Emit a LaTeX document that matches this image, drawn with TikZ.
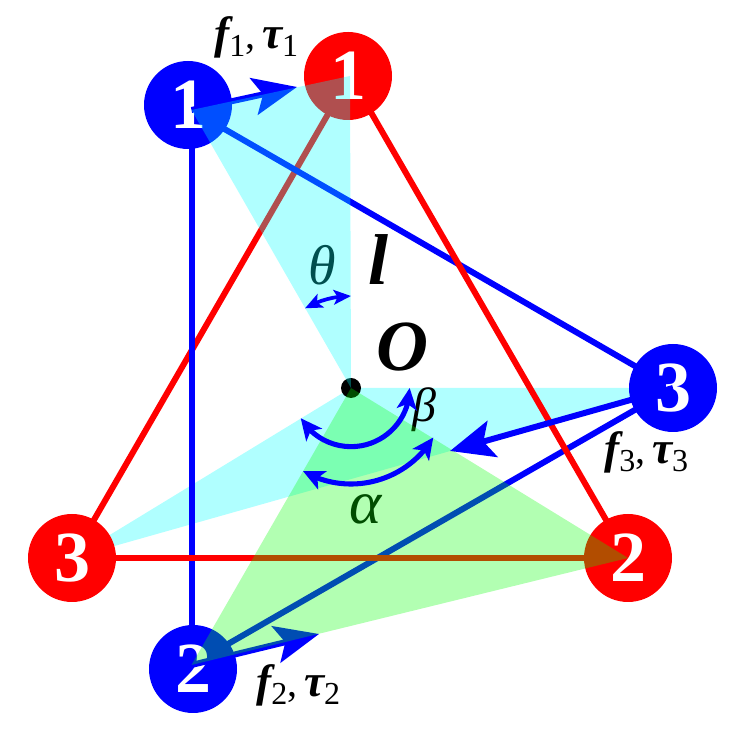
\documentclass[tikz,border=0pt]{standalone}
\usepackage{fontspec}
\setmainfont{Liberation Serif}
\usetikzlibrary{arrows.meta,bending}
\definecolor{pblue}{RGB}{0,0,255}
\definecolor{pred}{RGB}{255,0,0}
\newcommand{\fsub}[1]{\raisebox{-6pt}{\fontsize{24}{24}\selectfont #1}}
\newcommand{\flab}[1]{\fontsize{34}{34}\selectfont{\bfseries\itshape f}\fsub{#1}{\fontsize{30}{30}\selectfont,\kern5pt}{\bfseries\itshape τ}\fsub{#1}}
\tikzset{
  x=.75pt,y=.75pt,
  edgeblue/.style={draw=pblue,line width=4.5pt},
  edgered/.style={draw=pred,line width=4.5pt},
  ball/.style={circle,minimum size=66pt,inner sep=0pt,text=white,font=\fontsize{54}{54}\selectfont\bfseries},
  blueball/.style={ball,fill=pblue},
  redball/.style={ball,fill=pred},
  force/.style={draw=pblue,line width=4.5pt,-{Stealth[length=33pt,width=28pt,inset=7pt]}},
  turn/.style={draw=pblue,line width=3.8pt,{Stealth[length=16pt,width=15pt,inset=4pt,flex]}-{Stealth[length=16pt,width=15pt,inset=4pt,flex]}},
  thin turn/.style={draw=pblue,line width=2.8pt,{Stealth[length=13pt,width=11pt,inset=3pt]}-{Stealth[length=13pt,width=11pt,inset=3pt]}},
  flabel/.style={inner sep=0pt,text=black},
  angle label/.style={inner sep=0pt,font=\fontsize{42}{42}\selectfont\itshape},
  big label/.style={inner sep=0pt,font=\fontsize{54}{54}\selectfont\bfseries\itshape},
  cyanpatch/.style={fill={rgb,255:red,0;green,255;blue,255},fill opacity=.31},
  greenpatch/.style={fill={rgb,255:red,0;green,255;blue,0},fill opacity=.3},
}
\begin{document}
\begin{tikzpicture}
\useasboundingbox (0,0) rectangle (747,745);
% vertices
\coordinate (v1) at (191.5,635);
\coordinate (v2) at (191.5,80);
\coordinate (v3) at (673,357);
\coordinate (w1) at (350,669);
\coordinate (w2) at (628,187);
\coordinate (w3) at (72,187);
\coordinate (O) at (351,357);
\coordinate (tipa) at (297,658);
\coordinate (tipb) at (319,111);
\coordinate (tipc) at (450,294);
% lower patch
\path[cyanpatch] (O) -- (v3) -- (w3) -- cycle;
% triangles
\draw[edgered] (w1) -- (w3);
\draw[edgeblue] (v1) -- (v2);
\draw[edgeblue] (v2) -- (v3);
\draw[edgeblue] (v3) -- (v1);
\draw[edgered] (w1) -- (w2);
\draw[edgered] (w2) -- (w3);
% balls
\node[blueball] (B1) at (188,640) {1};
\node[blueball] (B2) at (193,76) {2};
\node[blueball] (B3) at (673,357) {3};
\node[redball] (R1) at (348,669) {1};
\node[redball] (R2) at (628,187) {2};
\node[redball] (R3) at (72,187) {3};
% centre
\node[circle,fill=black,minimum size=15pt,inner sep=0pt] (dot) at (O) {};
% forces under the upper patches
\draw[force] (v1) -- (tipa);
\draw[force] (v2) -- (tipb);
% labels
\node[flabel,anchor=base west] (fa) at (214,696) {\flab{1}};
\node[flabel,anchor=base west] (fb) at (256,48) {\flab{2}};
\node[flabel,anchor=base west] (fc) at (604,281) {\flab{3}};
\node[angle label] (theta) at (322,480) {θ};
\node[angle label,font=\fontsize{46}{46}\selectfont\itshape] (alpha) at (366,236) {α};
\node[angle label,font=\fontsize{36}{36}\selectfont\itshape] (beta) at (424,335) {β};
\node[big label] (l) at (378,485) {l};
\node[big label] (o) at (402,398) {O};
% upper translucent patches
\path[cyanpatch] (v1) -- (w1) -- (O) -- cycle;
\path[greenpatch] (O) -- (w2) -- (v2) -- cycle;
% on top
\draw[force] (v3) -- (tipc);
\coordinate (ts) at ([shift={(90:69pt)}]O);
\coordinate (bs) at ([shift={(0:44pt)}]O);
\coordinate (as) at ([shift={(-31:72pt)}]O);
\draw[thin turn] (ts) arc[start angle=90,end angle=120,radius=69pt];
\draw[turn] (bs) arc[start angle=0,end angle=-149,radius=44pt];
\draw[turn] (as) arc[start angle=-31,end angle=-120,radius=72pt];
\end{tikzpicture}
\end{document}
